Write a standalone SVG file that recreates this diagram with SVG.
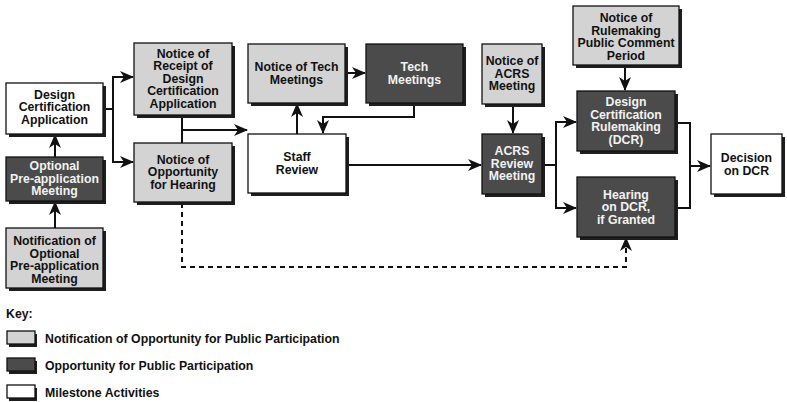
<svg xmlns="http://www.w3.org/2000/svg" width="787" height="402" viewBox="0 0 787 402">
<defs>
<style>
.sh{fill:#1e1e1e}
.lt{fill:#d3d3d3;stroke:#111;stroke-width:1.3}
.dk{fill:#4b4b4b;stroke:#111;stroke-width:1.3}
.wt{fill:#fff;stroke:#111;stroke-width:1.3}
text{font-family:"Liberation Sans",Arial,Helvetica,sans-serif;font-weight:bold;font-size:12.3px;text-anchor:middle}
.tl{fill:#111}
.td{fill:#f2f2f2}
.key{font-size:12.3px;text-anchor:start;fill:#111}
.ln{fill:none;stroke:#111;stroke-width:2}
.ar{fill:none;stroke:#111;stroke-width:2;marker-end:url(#ah)}
.ds{fill:none;stroke:#111;stroke-width:2;stroke-dasharray:5 4;marker-end:url(#ah)}
</style>
<marker id="ah" markerUnits="userSpaceOnUse" markerWidth="14" markerHeight="12" viewBox="0 0 14 12" refX="13" refY="6" orient="auto">
<path d="M0,0 L14,6 L0,12 L4,6 Z" fill="#111"/>
</marker>
</defs>

<g id="connectors">
<path class="ar" d="M55,228 V202"/>
<path class="ar" d="M55,157 V135"/>
<path class="ar" d="M103,109 H113 V77 H133"/>
<path class="ar" d="M113,108 V162 H133"/>
<path class="ln" d="M182,115 V143"/>
<path class="ar" d="M182,130 H247"/>
<path class="ar" d="M297,134 V104"/>
<path class="ar" d="M345,73 H365"/>
<path class="ar" d="M414,103 V117 H323 V133"/>
<path class="ar" d="M346,165 H481"/>
<path class="ar" d="M513,104 V133"/>
<path class="ar" d="M542,165 H556 V122 H576"/>
<path class="ar" d="M556,164 V208 H576"/>
<path class="ar" d="M625,65 V90"/>
<path class="ln" d="M675,123 H690 V208 H675"/>
<path class="ar" d="M690,166 H710"/>
<path class="ds" d="M182,203 V267 H626 V238"/>
</g>

<g id="design-cert-app">
<rect class="sh" x="9" y="86" width="97" height="51"/>
<rect class="wt" x="6" y="83" width="97" height="51"/>
<text class="tl" x="54.5" y="98.5">Design</text>
<text class="tl" x="54.5" y="111">Certification</text>
<text class="tl" x="54.5" y="123.5">Application</text>
</g>

<g id="optional-meeting">
<rect class="sh" x="9" y="160" width="97" height="44"/>
<rect class="dk" x="6" y="157" width="97" height="44"/>
<text class="td" x="54.5" y="170">Optional</text>
<text class="td" x="54.5" y="182.5">Pre-application</text>
<text class="td" x="54.5" y="195">Meeting</text>
</g>

<g id="notification-optional">
<rect class="sh" x="9" y="231" width="97" height="60"/>
<rect class="lt" x="6" y="228" width="97" height="60"/>
<text class="tl" x="54.5" y="245">Notification of</text>
<text class="tl" x="54.5" y="257.6">Optional</text>
<text class="tl" x="54.5" y="270.2">Pre-application</text>
<text class="tl" x="54.5" y="282.8">Meeting</text>
</g>

<g id="notice-receipt">
<rect class="sh" x="137" y="46" width="98" height="72"/>
<rect class="lt" x="134" y="43" width="98" height="72"/>
<text class="tl" x="183" y="57.5">Notice of</text>
<text class="tl" x="183" y="70">Receipt of</text>
<text class="tl" x="183" y="82.5">Design</text>
<text class="tl" x="183" y="95">Certification</text>
<text class="tl" x="183" y="107.5">Application</text>
</g>

<g id="notice-opportunity">
<rect class="sh" x="137" y="146" width="98" height="59"/>
<rect class="lt" x="134" y="143" width="98" height="59"/>
<text class="tl" x="183" y="163.5">Notice of</text>
<text class="tl" x="183" y="176">Opportunity</text>
<text class="tl" x="183" y="188.5">for Hearing</text>
</g>

<g id="notice-tech">
<rect class="sh" x="251" y="47" width="97" height="59"/>
<rect class="lt" x="248" y="44" width="97" height="59"/>
<text class="tl" x="296.5" y="71">Notice of Tech</text>
<text class="tl" x="296.5" y="83.5">Meetings</text>
</g>

<g id="tech-meetings">
<rect class="sh" x="369" y="47" width="97" height="59"/>
<rect class="dk" x="366" y="44" width="97" height="59"/>
<text class="td" x="414.5" y="71">Tech</text>
<text class="td" x="414.5" y="83.5">Meetings</text>
</g>

<g id="staff-review">
<rect class="sh" x="251" y="137" width="98" height="59"/>
<rect class="wt" x="248" y="134" width="98" height="59"/>
<text class="tl" x="297" y="161">Staff</text>
<text class="tl" x="297" y="173.5">Review</text>
</g>

<g id="notice-acrs">
<rect class="sh" x="485" y="47" width="60" height="60"/>
<rect class="lt" x="482" y="44" width="60" height="60"/>
<text class="tl" x="512" y="65">Notice of</text>
<text class="tl" x="512" y="77.5">ACRS</text>
<text class="tl" x="512" y="90">Meeting</text>
</g>

<g id="acrs-review">
<rect class="sh" x="485" y="137" width="60" height="60"/>
<rect class="dk" x="482" y="134" width="60" height="60"/>
<text class="td" x="512" y="155">ACRS</text>
<text class="td" x="512" y="167.5">Review</text>
<text class="td" x="512" y="180">Meeting</text>
</g>

<g id="notice-rulemaking">
<rect class="sh" x="576" y="9" width="106" height="59"/>
<rect class="lt" x="573" y="6" width="106" height="59"/>
<text class="tl" x="626" y="22">Notice of</text>
<text class="tl" x="626" y="34.5">Rulemaking</text>
<text class="tl" x="626" y="47">Public Comment</text>
<text class="tl" x="626" y="59.5">Period</text>
</g>

<g id="dcr">
<rect class="sh" x="580" y="94" width="98" height="60"/>
<rect class="dk" x="577" y="91" width="98" height="60"/>
<text class="td" x="626" y="106">Design</text>
<text class="td" x="626" y="118.5">Certification</text>
<text class="td" x="626" y="131">Rulemaking</text>
<text class="td" x="626" y="143.5">(DCR)</text>
</g>

<g id="hearing">
<rect class="sh" x="580" y="180" width="98" height="60"/>
<rect class="dk" x="577" y="177" width="98" height="60"/>
<text class="td" x="626" y="198.5">Hearing</text>
<text class="td" x="626" y="211">on DCR,</text>
<text class="td" x="626" y="223.5">if Granted</text>
</g>

<g id="decision">
<rect class="sh" x="714" y="137" width="71" height="60"/>
<rect class="wt" x="711" y="134" width="71" height="60"/>
<text class="tl" x="746.5" y="162">Decision</text>
<text class="tl" x="746.5" y="174.5">on DCR</text>
</g>

<g id="key">
<text class="key" x="6" y="318">Key:</text>
<rect class="sh" x="9" y="334" width="28" height="13"/>
<rect class="lt" x="7" y="331" width="28" height="13"/>
<text class="key" x="45" y="343">Notification of Opportunity for Public Participation</text>
<rect class="sh" x="9" y="361" width="28" height="13"/>
<rect class="dk" x="7" y="358" width="28" height="13"/>
<text class="key" x="45" y="370">Opportunity for Public Participation</text>
<rect class="sh" x="9" y="388" width="28" height="13"/>
<rect class="wt" x="7" y="385" width="28" height="13"/>
<text class="key" x="45" y="397">Milestone Activities</text>
</g>
</svg>
